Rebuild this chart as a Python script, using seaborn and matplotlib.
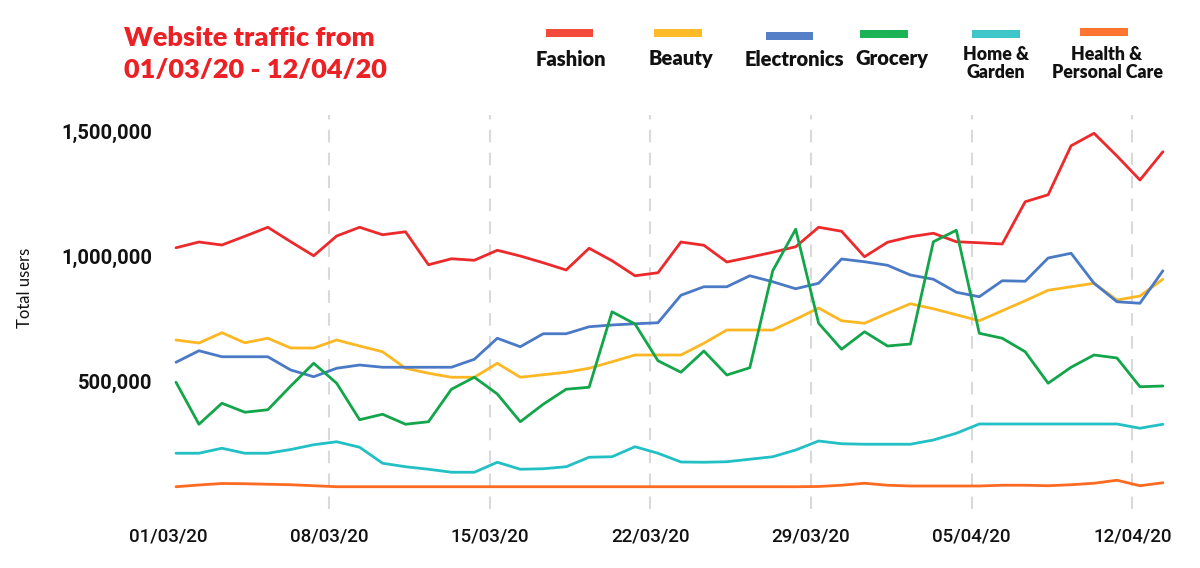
import matplotlib
matplotlib.use("Agg")
import matplotlib.pyplot as plt
from matplotlib.patches import Rectangle
import seaborn as sns
import pandas as pd

# ---------------- data ----------------
dates = pd.date_range("2020-03-01", periods=44, freq="D")

fashion = [1035000, 1058000, 1046000, 1081000, 1117000, 1059000, 1003000, 1082000, 1117000, 1087000,
           1099000, 967000, 991000, 985000, 1025000, 1002000, 975000, 946000, 1033000, 983000,
           923000, 935000, 1058000, 1045000, 978000, 997000, 1017000, 1039000, 1117000, 1101000,
           999000, 1057000, 1079000, 1093000, 1059000, 1055000, 1050000, 1219000, 1247000, 1443000,
           1493000, 1402000, 1306000, 1419000]
beauty = [666000, 654000, 695000, 655000, 673000, 634000, 634000, 666000, 642000, 619000,
          553000, 533000, 517000, 517000, 573000, 517000, 527000, 537000, 553000, 579000,
          606000, 606000, 606000, 653000, 706000, 706000, 706000, 749000, 794000, 743000,
          733000, 773000, 811000, 791000, 767000, 743000, 783000, 823000, 865000, 879000,
          893000, 826000, 842000, 909000]
electronics = [577000, 623000, 599000, 599000, 599000, 546000, 519000, 553000, 566000, 557000,
               557000, 557000, 557000, 589000, 673000, 639000, 691000, 691000, 719000, 726000,
               731000, 735000, 845000, 879000, 879000, 923000, 899000, 871000, 893000, 990000,
               979000, 965000, 926000, 909000, 857000, 839000, 903000, 901000, 994000, 1013000,
               893000, 819000, 813000, 943000]
grocery = [497000, 329000, 413000, 377000, 387000, 482000, 573000, 493000, 347000, 369000,
           329000, 339000, 469000, 517000, 450000, 339000, 409000, 469000, 477000, 779000,
           730000, 583000, 537000, 622000, 526000, 555000, 943000, 1109000, 733000, 629000,
           699000, 642000, 650000, 1059000, 1105000, 693000, 673000, 619000, 493000, 557000,
           606000, 594000, 479000, 482000]
home_garden = [213000, 213000, 233000, 213000, 213000, 228000, 247000, 259000, 237000, 173000,
               159000, 149000, 137000, 137000, 177000, 149000, 151000, 159000, 197000, 199000,
               239000, 213000, 178000, 177000, 179000, 189000, 199000, 226000, 262000, 251000,
               249000, 249000, 249000, 266000, 293000, 330000, 330000, 330000, 330000, 330000,
               330000, 330000, 313000, 329000]
health = [79000, 86000, 92000, 91000, 89000, 87000, 83000, 79000, 79000, 79000,
          79000, 79000, 79000, 79000, 79000, 79000, 79000, 79000, 79000, 79000,
          79000, 79000, 79000, 79000, 79000, 79000, 79000, 79000, 80000, 85000,
          93000, 85000, 82000, 82000, 82000, 82000, 85000, 85000, 83000, 87000,
          93000, 105000, 83000, 95000]

categories = ["Fashion", "Beauty", "Electronics", "Grocery", "Home & Garden",
              "Health & Personal Care"]
legend_labels = ["Fashion", "Beauty", "Electronics", "Grocery", "Home &\nGarden",
                 "Health &\nPersonal Care"]
series = [fashion, beauty, electronics, grocery, home_garden, health]
line_colors = ["#ec2a2c", "#fcb723", "#4a79c6", "#12a54a", "#22c0c4", "#fd6b22"]
legend_colors = ["#f44a3c", "#fdbb2a", "#5580c8", "#1cb356", "#3fc6c9", "#fd7530"]

x_ticks_labels = ["01/03/20", "08/03/20", "15/03/20", "22/03/20", "29/03/20",
                  "05/04/20", "12/04/20"]
y_ticks = [500000, 1000000, 1500000]
y_tick_labels = ["500,000", "1,000,000", "1,500,000"]

title_text = "Website traffic from\n01/03/20 - 12/04/20"
y_label = "Total users"

# ---------------- frame ----------------
frames = []
for cat, vals in zip(categories, series):
    frames.append(pd.DataFrame({"day": range(len(vals)), "users": vals, "category": cat}))
df = pd.concat(frames, ignore_index=True)

sns.set_theme(style="white")
plt.rcParams["font.family"] = ["Lato", "DejaVu Sans"]
num_font = ["Roboto", "DejaVu Sans"]

fig = plt.figure(figsize=(12, 5.68), dpi=100)
ax = fig.add_axes([0.1371, 0.1039, 0.8358, 0.6936])

sns.lineplot(data=df, x="day", y="users", hue="category", hue_order=categories,
             palette=dict(zip(categories, line_colors)), linewidth=2.0,
             legend=False, ax=ax, zorder=3)

ax.set_xlim(-0.5, 43.2)
ax.set_ylim(-10000, 1566000)

tick_pos = [7 * k - 0.33 for k in range(len(x_ticks_labels))]
for p in tick_pos[1:]:
    ax.axvline(p, color="#d9d9d9", lw=1.5, ls=(0, (6, 5)), zorder=1)

ax.set_xticks(tick_pos)
ax.set_xticklabels(x_ticks_labels, fontsize=13.5, fontweight="medium", color="#111111",
                   family=num_font)
ax.set_yticks(y_ticks)
ax.set_yticklabels(y_tick_labels, fontsize=14.5, fontweight="bold", color="#111111",
                   family=num_font)
ax.tick_params(axis="x", length=0, pad=13)
ax.tick_params(axis="y", length=0, pad=9)
ax.set_xlabel("")
ax.set_ylabel("")
for s in ax.spines.values():
    s.set_visible(False)
ax.grid(False)

fig.text(25 / 1200, 1 - 288 / 568, y_label, rotation=90, ha="center", va="center",
         fontsize=12, color="#111111")

fig.text(124 / 1200, 1 - 54 / 568, title_text, ha="left", va="center",
         fontsize=19.5, fontweight="heavy", color="#ec2126", linespacing=1.42)

# ---------------- legend ----------------
rects = [(546, 29, 593), (654, 29, 702), (766, 32, 813), (860, 30, 908), (972, 30, 1020),
         (1080, 28, 1128)]
label_cx = [571, 681, 794, 892, 996, 1107]
for (x0, y0, x1), cx, lab, col in zip(rects, label_cx, legend_labels, legend_colors):
    fig.patches.append(Rectangle((x0 / 1200, 1 - (y0 + 8) / 568), (x1 - x0) / 1200, 8 / 568,
                                 transform=fig.transFigure, facecolor=col, edgecolor="none"))
    two = "\n" in lab
    cy = 63.5 if two else 59
    fig.text(cx / 1200, 1 - cy / 568, lab, ha="center", va="center",
             fontsize=12.8 if two else 14.5, fontweight="heavy", color="#111111",
             linespacing=1.05)

fig.savefig("out.png", dpi=100, facecolor="white")
